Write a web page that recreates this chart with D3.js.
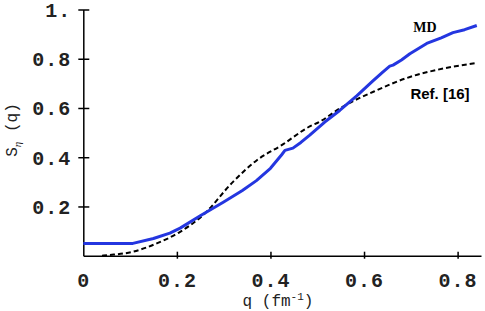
<!DOCTYPE html>
<html><head><meta charset="utf-8">
<script src="https://cdn.jsdelivr.net/npm/d3@7"></script>
<style>body{margin:0;background:#fff}svg{display:block}</style>
</head><body>
<script>
const xTicks = [0, 0.2, 0.4, 0.6, 0.8];
const xTickLabels = ["0", "0.2", "0.4", "0.6", "0.8"];
const yTicks = [0.2, 0.4, 0.6, 0.8, 1.0];
const yTickLabels = ["0.2", "0.4", "0.6", "0.8", "1."];
const mdQ = [0, 0.106, 0.15, 0.185, 0.207, 0.25, 0.3, 0.34, 0.37, 0.4, 0.424, 0.431, 0.448, 0.465, 0.484, 0.516, 0.548, 0.585, 0.619, 0.64, 0.655, 0.662, 0.68, 0.698, 0.734, 0.765, 0.79, 0.815, 0.841];
const mdS = [0.05, 0.05, 0.07, 0.092, 0.112, 0.162, 0.218, 0.265, 0.305, 0.355, 0.41, 0.428, 0.437, 0.46, 0.49, 0.543, 0.59, 0.65, 0.71, 0.746, 0.77, 0.774, 0.795, 0.82, 0.862, 0.885, 0.906, 0.918, 0.935];
const refQ = [0.04, 0.057, 0.106, 0.157, 0.207, 0.256, 0.32, 0.371, 0.424, 0.484, 0.506, 0.548, 0.627, 0.698, 0.769, 0.841];
const refS = [0, 0.003, 0.016, 0.05, 0.097, 0.165, 0.30, 0.388, 0.449, 0.525, 0.545, 0.598, 0.672, 0.726, 0.76, 0.783];

const W = 485, H = 311;
const svg = d3.select("body").append("svg").attr("width", W).attr("height", H);
const x = d3.scaleLinear().domain([0, 0.85]).range([83.3, 481]);
const y = d3.scaleLinear().domain([0, 1]).range([255.7, 9.5]);

const mono = "'Liberation Mono', 'DejaVu Sans Mono', monospace";

// axes
const xAxis = d3.axisBottom(x).tickValues(xTicks).tickSize(0).tickFormat((d, i) => xTickLabels[i]);
const gx = svg.append("g").attr("transform", `translate(0,${y(0)})`).call(xAxis);
gx.select(".domain").attr("stroke", "#000").attr("stroke-width", 1.5);
gx.selectAll(".tick line").remove();
gx.selectAll(".tick").filter(d => d > 0).append("line").attr("y1", -4).attr("y2", 3).attr("stroke", "#000").attr("stroke-width", 1.5);
gx.selectAll(".tick text").attr("font-family", mono).attr("font-weight", "bold").attr("font-size", 20).attr("fill", "#222").attr("dy", 0).attr("y", 31).attr("letter-spacing", 1);

const yAxis = d3.axisLeft(y).tickValues(yTicks).tickSize(0).tickFormat((d, i) => yTickLabels[i]);
const gy = svg.append("g").attr("transform", `translate(${x(0)},0)`).call(yAxis);
gy.select(".domain").attr("stroke", "#000").attr("stroke-width", 1.5);
gy.selectAll(".tick line").remove();
gy.selectAll(".tick").append("line").attr("x1", -5).attr("x2", 6).attr("stroke", "#000").attr("stroke-width", 1.5);
gy.selectAll(".tick text").attr("font-family", mono).attr("font-weight", "bold").attr("font-size", 20).attr("fill", "#222").attr("x", -12).attr("dy", "0.35em").attr("letter-spacing", 1);

// lines
const line = d3.line().x(d => x(d[0])).y(d => y(d[1]));
svg.append("path").datum(refQ.map((q, i) => [q, refS[i]])).attr("d", line.curve(d3.curveMonotoneX))
  .attr("fill", "none").attr("stroke", "#000").attr("stroke-width", 2).attr("stroke-dasharray", "5,3");
svg.append("path").datum(mdQ.map((q, i) => [q, mdS[i]])).attr("d", d3.line().x(d => x(d[0])).y(d => y(d[1])))
  .attr("fill", "none").attr("stroke", "#2436e0").attr("stroke-width", 3).attr("stroke-linejoin", "round");

// labels
svg.append("text").attr("x", 425).attr("y", 32).attr("text-anchor", "middle")
  .attr("font-family", "'Liberation Serif', serif").attr("font-weight", "bold").attr("font-size", 14).text("MD");
svg.append("text").attr("x", 440).attr("y", 99).attr("text-anchor", "middle")
  .attr("font-family", "'Liberation Sans', Arial, sans-serif").attr("font-weight", "bold").attr("font-size", 15).text("Ref. [16]");

// axis titles
const xt = svg.append("text").attr("x", 278).attr("y", 306).attr("text-anchor", "middle")
  .attr("font-family", mono).attr("font-size", 16).attr("fill", "#222");
xt.append("tspan").text("q (fm");
xt.append("tspan").attr("dy", -6).attr("font-size", 11).text("-1");
xt.append("tspan").attr("dy", 6).text(")");

const yt = svg.append("text").attr("transform", "translate(17,130) rotate(-90)").attr("text-anchor", "middle")
  .attr("font-family", mono).attr("font-size", 16).attr("fill", "#222");
yt.append("tspan").text("S");
yt.append("tspan").attr("dy", 4).attr("font-size", 11).attr("font-family", "'Liberation Serif', serif").attr("font-style", "italic").text("η");
yt.append("tspan").attr("dy", -4).text(" (q)");
</script>
</body></html>
